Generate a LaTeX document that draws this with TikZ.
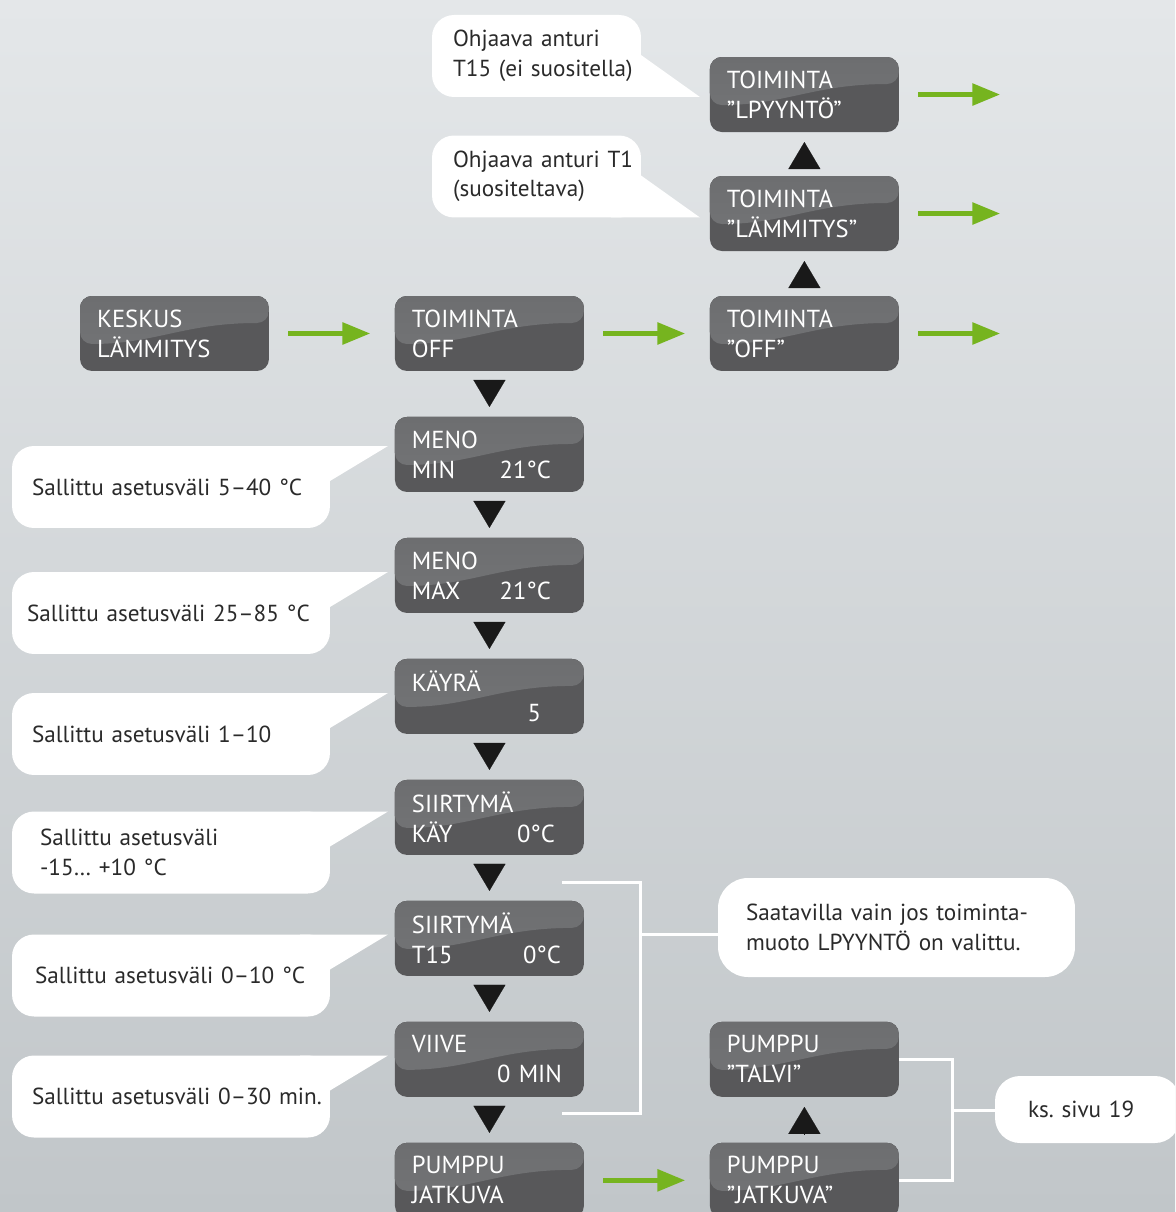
\documentclass[tikz,border=0pt]{standalone}
\usepackage{fontspec}
\setmainfont{PT Sans}
\frenchspacing
\usetikzlibrary{positioning,arrows.meta,calc}

\definecolor{bgtop}{HTML}{E4E7E9}
\definecolor{bgbot}{HTML}{C1C6C9}
\definecolor{boxgray}{HTML}{58585A}
\definecolor{glosstop}{HTML}{6D6E70}
\definecolor{glossbot}{HTML}{747577}
\definecolor{arrowgreen}{HTML}{76B41F}
\definecolor{notetext}{HTML}{2A2A2A}

\pgfdeclarelayer{back}
\pgfdeclarelayer{tails}
\pgfsetlayers{back,tails,main}

\newcommand\pushright{\hskip 0pt plus 1fill\relax}

\tikzset{%
  display/.style={fill=boxgray, rounded corners=0.24cm, minimum width=3.78cm, minimum height=1.5cm, text width=3.10cm, inner xsep=0.34cm, inner ysep=0pt, outer sep=0pt, align=left, text=white, font=\fontsize{14}{17.1}\selectfont,
    path picture={\fill[top color=glosstop, bottom color=glossbot] (path picture bounding box.north west) -- (path picture bounding box.north east) -- ([yshift=-0.54cm]path picture bounding box.north east) .. controls +(-1.7cm,0) and +(1.5cm,0) .. ([yshift=-0.96cm]path picture bounding box.north west) -- cycle;}},
  callout/.style={fill=white, rounded corners=0.44cm, inner ysep=0pt, outer sep=0pt, align=left, text=notetext, font=\fontsize{13.2}{16.8}\selectfont, minimum height=1.64cm},
  sidenote/.style={callout, minimum width=6.36cm, text width=5.56cm, inner xsep=0.4cm},
  topnote/.style={callout, minimum width=4.18cm, text width=3.34cm, inner xsep=0.42cm},
  flow/.style={draw=arrowgreen, line width=0.11cm, -{Triangle[width=0.42cm,length=0.56cm]}, shorten <=0.39cm, shorten >=0.49cm},
  tri/.style={draw=black!90, line width=0.1pt, -{Triangle[width=0.64cm,length=0.54cm]}, shorten <=0.18cm, shorten >=0.2cm},
  bracket/.style={draw=white, line width=0.06cm},
}

\begin{document}
\begin{tikzpicture}[x=0.02cm, y=-0.02cm]
\clip (0,0) rectangle (1175,1212);
\begin{pgfonlayer}{back}
\fill[top color=bgtop, bottom color=bgbot] (0,0) rectangle (1175,1212);
\end{pgfonlayer}

% displays
\node[display] (keskus) at (174.5,333.5) {KESKUS\\LÄMMITYS};
\node[display, right=2.52cm of keskus] (off) {TOIMINTA\\OFF};
\node[display, right=2.52cm of off] (rOff) {TOIMINTA\\”OFF”};
\node[display, above=0.9cm of rOff] (rHeat) {TOIMINTA\\”LÄMMITYS”};
\node[display, above=0.88cm of rHeat] (rReq) {TOIMINTA\\”LPYYNTÖ”};
\node[display, below=0.92cm of off] (minT) {MENO\\MIN\pushright 21°C\hspace*{0.32cm}};
\node[display, below=0.92cm of minT] (maxT) {MENO\\MAX\pushright 21°C\hspace*{0.32cm}};
\node[display, below=0.92cm of maxT] (curve) {KÄYRÄ\\\mbox{}\pushright 5\hspace*{0.52cm}};
\node[display, below=0.92cm of curve] (shiftK) {SIIRTYMÄ\\KÄY\pushright 0°C\hspace*{0.24cm}};
\node[display, below=0.92cm of shiftK] (shiftT) {SIIRTYMÄ\\T15\pushright 0°C\hspace*{0.12cm}};
\node[display, below=0.92cm of shiftT] (delay) {VIIVE\\\mbox{}\pushright 0 MIN\hspace*{0.1cm}};
\node[display, below=0.92cm of delay] (pump) {PUMPPU\\JATKUVA};
\node[display, right=2.52cm of pump] (pCont) {PUMPPU\\”JATKUVA”};
\node[display, above=0.92cm of pCont] (pWinter) {PUMPPU\\”TALVI”};

% callouts
\node[topnote] (cReq) at (536.5,56) {\mbox{Ohjaava anturi}\\\mbox{T15 (ei suositella)}};
\node[topnote] (cHeat) at (536.5,176.5) {\mbox{Ohjaava anturi T1}\\\mbox{(suositeltava)}};
\node[sidenote] (cMin) at (171,487) {\mbox{Sallittu asetusväli 5–40 °C}};
\node[sidenote] (cMax) at (171,613) {\mbox{\hspace*{-0.1cm}Sallittu asetusväli 25–85 °C}};
\node[sidenote] (cCurve) at (171,734) {\mbox{Sallittu asetusväli 1–10}};
\node[sidenote] (cShiftK) at (171,852.5) {\mbox{\hspace*{0.16cm}Sallittu asetusväli}\\\mbox{\hspace*{0.16cm}-15… +10 °C}};
\node[sidenote] (cShiftT) at (171,975.5) {\mbox{\hspace*{0.06cm}Sallittu asetusväli 0–10 °C}};
\node[sidenote] (cDelay) at (171,1096.5) {\mbox{Sallittu asetusväli 0–30 min.}};
\node[callout, rounded corners=0.6cm, minimum width=7.14cm, minimum height=1.98cm, text width=6.02cm, inner xsep=0.56cm] (note) at (896.5,927.5) {\mbox{Saatavilla vain jos toiminta-}\\\mbox{muoto LPYYNTÖ on valittu.}};
\node[callout, rounded corners=0.5cm, minimum width=3.7cm, minimum height=1.34cm, text width=2.38cm, inner xsep=0.66cm] (ks) at (1087.5,1109.5) {ks. sivu 19};

% tails
\begin{pgfonlayer}{tails}
\foreach \c/\b in {cMin/minT, cMax/maxT, cCurve/curve, cShiftK/shiftK, cShiftT/shiftT, cDelay/delay}
  \fill[white] ([shift={(-30,0)}]\c.north east) -- ($(\b.west |- \c.north)+(-7,0)$) -- ([shift={(0,35)}]\c.north east) -- cycle;
\foreach \c/\b in {cReq/rReq, cHeat/rHeat}
  \fill[white] ([shift={(-30,0)}]\c.south east) -- ($(\b.west |- \c.south)+(-10,0)$) -- ([shift={(0,-42)}]\c.south east) -- cycle;
\end{pgfonlayer}

% arrows
\draw[flow] (keskus) -- (off);
\draw[flow] (off) -- (rOff);
\draw[flow] (pump) -- (pCont);
\foreach \b in {rOff, rHeat, rReq} {
  \coordinate[right=2.52cm of \b.east] (\b out);
  \draw[flow] (\b) -- (\b out);
}
\foreach \a/\b in {off/minT, minT/maxT, maxT/curve, curve/shiftK, shiftK/shiftT, shiftT/delay, delay/pump, rOff/rHeat, rHeat/rReq, pCont/pWinter}
  \draw[tri] (\a) -- (\b);

% brackets
\coordinate (b1a) at (562,882);
\coordinate (b1b) at (562,1113);
\coordinate (b1m) at (640,934);
\draw[bracket] (b1a) -| (b1m) |- (b1b);
\draw[bracket] (b1m) -- (note.west |- b1m);
\coordinate (b2m) at (952,1110);
\draw[bracket] (pWinter.east) -| (b2m) |- (pCont.east);
\draw[bracket] (b2m) -- (ks.west |- b2m);
\end{tikzpicture}
\end{document}
